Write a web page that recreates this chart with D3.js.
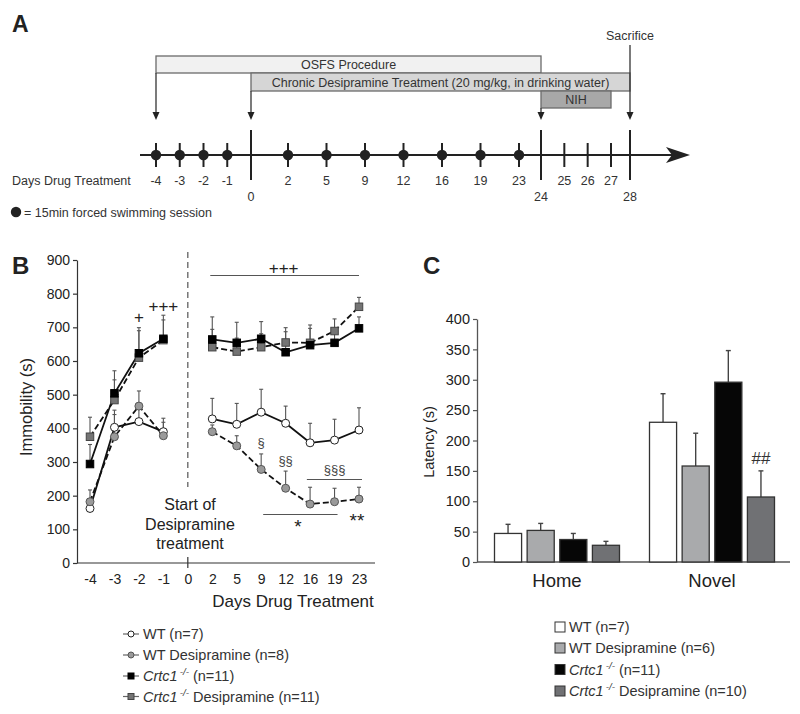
<!DOCTYPE html>
<html><head><meta charset="utf-8">
<script src="https://cdn.jsdelivr.net/npm/d3@7"></script>
<style>
body{margin:0;background:#fff}
svg{display:block;font-family:"Liberation Sans",Arial,Helvetica,sans-serif;fill:#222}
</style>
</head><body>
<svg id="chart" width="800" height="714"></svg>
<script>
// ---------------- DATA ----------------
// Panel A (schematic timeline)
const timelineDays = [-4,-3,-2,-1,0,2,5,9,12,16,19,23,24,25,26,27,28];
const sessionDays = [-4,-3,-2,-1,2,5,9,12,16,19,23];
const milestoneDays = [0,24,28];
const plainTickDays = [25,26,27];
const phaseLabels = ["OSFS Procedure","Chronic Desipramine Treatment (20 mg/kg, in drinking water)","NIH"];
const phaseStart = [-4,0,24];
const phaseEnd = [24,28,27];
const arrowDays = [-4,0,24,28];

// Panel B (immobility, s)
const bCategories = ["-4","-3","-2","-1","0","2","5","9","12","16","19","23"];
const preDays = ["-4","-3","-2","-1"];
const postDays = ["2","5","9","12","16","19","23"];
const bSeriesNames = ["WT (n=7)","WT Desipramine (n=8)","Crtc1 (n=11)","Crtc1 Desipramine (n=11)"];
const wtPre = [162,403,420,390],      wtPost = [428,412,448,415,357,365,395];
const wtErrPre = [15,51,40,40],       wtErrPost = [61,62,68,51,58,62,66];
const wtDesPre = [182,375,466,378],   wtDesPost = [390,348,278,222,175,182,190];
const wtDesErrPre = [35,66,45,40],    wtDesErrPost = [20,30,46,51,50,40,35];
const koPre = [294,504,623,666],      koPost = [664,654,666,626,647,654,697];
const koErrPre = [58,67,76,70],       koErrPost = [67,61,51,61,50,40,34];
const koDesPre = [375,484,610,662],   koDesPost = [641,628,641,655,654,689,761];
const koDesErrPre = [58,60,80,60],    koDesErrPost = [53,40,40,44,53,36,28];
const bYTicks = [0,100,200,300,400,500,600,700,800,900];

// Panel C (latency, s)
const cGroups = ["Home","Novel"];
const cSeries = ["WT (n=7)","WT Desipramine (n=6)","Crtc1 (n=11)","Crtc1 Desipramine (n=10)"];
const homeVals = [47,52,37,27.5],  homeErr = [15,11.5,10,6.5];
const novelVals = [230,158,296,107], novelErr = [47,54,52,43];
const cYTicks = [0,50,100,150,200,250,300,350,400];

// ---------------- DRAW ----------------
const svg = d3.select("#chart");
const ink = "#222";

// ===== Panel A =====
const gA = svg.append("g");
gA.append("text").attr("x",12).attr("y",32).attr("font-size",23).attr("font-weight","bold").text("A");

const tx = d3.scaleLinear().domain([0,4,5,11,12,15,16]).range([156,251,288,519,541,611,630]);
const tpos = d => tx(timelineDays.indexOf(d));

const phaseY = [56,73,91], phaseH = [17,18,17];
const phaseFill = ["#f1f1f1","#d6d6d6","#a8a8a8"];
phaseLabels.forEach((lab,i)=>{
  const x0 = tpos(phaseStart[i]), x1 = tpos(phaseEnd[i]);
  gA.append("rect").attr("x",x0).attr("y",phaseY[i]).attr("width",x1-x0).attr("height",phaseH[i])
    .attr("fill",phaseFill[i]).attr("stroke","#6a6a6a").attr("stroke-width",1.3);
  gA.append("text").attr("x",(x0+x1)/2).attr("y",phaseY[i]+phaseH[i]/2+4.5)
    .attr("text-anchor","middle").attr("font-size",12.5).attr("fill","#333").text(lab);
});
gA.append("text").attr("x",tpos(28)).attr("y",40).attr("text-anchor","middle").attr("font-size",12.5).attr("fill","#333").text("Sacrifice");

// arrows
const arrowFrom = [73,91,108,45];
arrowDays.forEach((d,i)=>{
  const x = tpos(d);
  gA.append("line").attr("x1",x).attr("x2",x).attr("y1",arrowFrom[i]).attr("y2",113)
    .attr("stroke","#333").attr("stroke-width",1.3);
  gA.append("path").attr("d",`M${x-3.5},112 L${x+3.5},112 L${x},120 Z`).attr("fill","#222");
});

// timeline axis
const tlY = 155;
gA.append("line").attr("x1",140).attr("x2",676).attr("y1",tlY).attr("y2",tlY).attr("stroke",ink).attr("stroke-width",2);
gA.append("path").attr("d",`M690,${tlY} L666,${tlY-8} L672,${tlY} L666,${tlY+8} Z`).attr("fill",ink);
sessionDays.concat(plainTickDays).forEach(d=>{
  gA.append("line").attr("x1",tpos(d)).attr("x2",tpos(d)).attr("y1",143).attr("y2",167).attr("stroke",ink).attr("stroke-width",2);
});
milestoneDays.forEach(d=>{
  gA.append("line").attr("x1",tpos(d)).attr("x2",tpos(d)).attr("y1",130).attr("y2",180).attr("stroke",ink).attr("stroke-width",2);
});
sessionDays.forEach(d=>{
  gA.append("circle").attr("cx",tpos(d)).attr("cy",tlY).attr("r",5.2).attr("fill",ink);
});
timelineDays.forEach(d=>{
  const big = milestoneDays.includes(d);
  gA.append("text").attr("x",tpos(d)).attr("y",big?201:185).attr("text-anchor","middle")
    .attr("font-size",12.5).attr("fill","#333").text(d);
});
gA.append("text").attr("x",12).attr("y",185).attr("font-size",12.5).attr("fill","#333").text("Days Drug Treatment");
gA.append("circle").attr("cx",16).attr("cy",212).attr("r",5.2).attr("fill",ink);
gA.append("text").attr("x",24).attr("y",216.5).attr("font-size",12.5).attr("fill","#333").text("= 15min forced swimming session");

// ===== Panel B =====
const gB = svg.append("g");
gB.append("text").attr("x",12).attr("y",274).attr("font-size",24).attr("font-weight","bold").text("B");

const xB = d3.scalePoint().domain(bCategories).range([90,359]);
const yB = d3.scaleLinear().domain([0,900]).range([563,260]);

const yAxB = gB.append("g").attr("transform","translate(77,0)")
  .call(d3.axisLeft(yB).tickValues(bYTicks).tickSize(4).tickSizeOuter(0).tickPadding(3));
yAxB.select(".domain").attr("stroke","#333").attr("stroke-width",1.2);
yAxB.selectAll(".tick line").attr("stroke","#333").attr("stroke-width",1.2);
yAxB.selectAll("text").attr("font-size",14).attr("font-family",null).attr("fill","#222");

gB.append("line").attr("x1",77).attr("x2",375).attr("y1",563).attr("y2",563).attr("stroke","#333").attr("stroke-width",1.2);
const xAxB = gB.append("g").attr("transform","translate(0,563)")
  .call(d3.axisBottom(xB).tickSize(0).tickPadding(11));
xAxB.select(".domain").remove();
xAxB.selectAll("text").attr("font-size",14).attr("font-family",null).attr("fill","#222");
gB.append("line").attr("x1",xB("0")).attr("x2",xB("0")).attr("y1",557).attr("y2",568).attr("stroke","#333").attr("stroke-width",1.2);

gB.append("text").attr("x",293).attr("y",607).attr("text-anchor","middle").attr("font-size",17).text("Days Drug Treatment");
gB.append("text").attr("transform","translate(32,407) rotate(-90)").attr("text-anchor","middle").attr("font-size",16.5).text("Immobility (s)");

// dashed start line
gB.append("line").attr("x1",xB("0")).attr("x2",xB("0")).attr("y1",252).attr("y2",487)
  .attr("stroke","#555").attr("stroke-width",1.2).attr("stroke-dasharray","6,4");
["Start of","Desipramine","treatment"].forEach((t,i)=>{
  gB.append("text").attr("x",190).attr("y",510+i*19.5).attr("text-anchor","middle").attr("font-size",16).text(t);
});

const seriesB = [
  {pre:wtPre, post:wtPost, ePre:wtErrPre, ePost:wtErrPost, dash:null, shape:"circle", fill:"#fff", stroke:"#222"},
  {pre:wtDesPre, post:wtDesPost, ePre:wtDesErrPre, ePost:wtDesErrPost, dash:"6,3", shape:"circle", fill:"#9a9a9a", stroke:"#555"},
  {pre:koPre, post:koPost, ePre:koErrPre, ePost:koErrPost, dash:null, shape:"square", fill:"#000", stroke:"#000"},
  {pre:koDesPre, post:koDesPost, ePre:koDesErrPre, ePost:koDesErrPost, dash:"6,3", shape:"square", fill:"#747474", stroke:"#444"}
];
const toPts = (days, vals, errs) => days.map((d,i)=>({day:d, v:vals[i], e:errs[i]}));
const lineB = d3.line().x(p=>xB(p.day)).y(p=>yB(p.v));

// error bars
seriesB.forEach(s=>{
  const pts = toPts(preDays,s.pre,s.ePre).concat(toPts(postDays,s.post,s.ePost));
  pts.forEach(p=>{
    const x = xB(p.day);
    gB.append("line").attr("x1",x).attr("x2",x).attr("y1",yB(p.v)).attr("y2",yB(p.v+p.e)).attr("stroke","#555").attr("stroke-width",1.1);
    gB.append("line").attr("x1",x-2).attr("x2",x+2).attr("y1",yB(p.v+p.e)).attr("y2",yB(p.v+p.e)).attr("stroke","#555").attr("stroke-width",1.1);
  });
});
// lines
seriesB.forEach(s=>{
  [toPts(preDays,s.pre,s.ePre), toPts(postDays,s.post,s.ePost)].forEach(pts=>{
    gB.append("path").attr("d",lineB(pts)).attr("fill","none").attr("stroke","#111").attr("stroke-width",1.8)
      .attr("stroke-dasharray",s.dash);
  });
});
// markers
function marker(g, shape, x, y, size, fill, stroke){
  if(shape==="circle"){
    g.append("circle").attr("cx",x).attr("cy",y).attr("r",size/2).attr("fill",fill).attr("stroke",stroke).attr("stroke-width",1);
  } else {
    g.append("rect").attr("x",x-size/2).attr("y",y-size/2).attr("width",size).attr("height",size).attr("fill",fill).attr("stroke",stroke).attr("stroke-width",1);
  }
}
[0,1,3,2].forEach(k=>{
  const s = seriesB[k];
  toPts(preDays,s.pre,s.ePre).concat(toPts(postDays,s.post,s.ePost)).forEach(p=>{
    marker(gB, s.shape, xB(p.day), yB(p.v), s.shape==="circle"?8:7.5, s.fill, s.stroke);
  });
});

// significance annotations
gB.append("line").attr("x1",xB("2")-2).attr("x2",xB("23")).attr("y1",275.5).attr("y2",275.5).attr("stroke","#555").attr("stroke-width",1.2);
gB.append("text").attr("x",(xB("2")+xB("23"))/2-2).attr("y",274).attr("text-anchor","middle").attr("font-size",17).text("+++");
gB.append("text").attr("x",xB("-2")).attr("y",322.5).attr("text-anchor","middle").attr("font-size",17).text("+");
gB.append("text").attr("x",xB("-1")).attr("y",312).attr("text-anchor","middle").attr("font-size",17).text("+++");
gB.append("text").attr("x",xB("9")).attr("y",447).attr("text-anchor","middle").attr("font-size",13).attr("fill","#444").text("§");
gB.append("text").attr("x",xB("12")).attr("y",465).attr("text-anchor","middle").attr("font-size",13).attr("fill","#444").text("§§");
gB.append("line").attr("x1",(xB("12")+xB("16"))/2+9).attr("x2",xB("23")+3).attr("y1",479.5).attr("y2",479.5).attr("stroke","#555").attr("stroke-width",1.2);
gB.append("text").attr("x",xB("19")).attr("y",474).attr("text-anchor","middle").attr("font-size",13).attr("fill","#444").text("§§§");
gB.append("line").attr("x1",xB("9")+2).attr("x2",xB("19")+3).attr("y1",514.5).attr("y2",514.5).attr("stroke","#555").attr("stroke-width",1.2);
gB.append("text").attr("x",(xB("12")+xB("16"))/2).attr("y",533).attr("text-anchor","middle").attr("font-size",19).text("*");
gB.append("text").attr("x",xB("23")-2).attr("y",527).attr("text-anchor","middle").attr("font-size",19).text("**");

// legend B
function labelWithGene(t, name, fs){
  const m = name.match(/^Crtc1(.*)$/);
  if(m){
    t.append("tspan").attr("font-style","italic").text("Crtc1");
    t.append("tspan").attr("font-style","italic").attr("font-size",fs*0.68).attr("dx",2).attr("dy",-6).text("-/-");
    t.append("tspan").attr("dy",6).text(m[1]);
  } else t.text(name);
}
const legBY = [634,655,676,696.5];
bSeriesNames.forEach((n,i)=>{
  const s = seriesB[i], y = legBY[i];
  gB.append("line").attr("x1",123).attr("x2",139).attr("y1",y).attr("y2",y).attr("stroke","#666").attr("stroke-width",1.2);
  marker(gB, s.shape, 131, y, s.shape==="circle"?6:6, s.fill, s.stroke);
  const t = gB.append("text").attr("x",143).attr("y",y+5).attr("font-size",14.5).attr("fill","#333");
  labelWithGene(t, n, 14.5);
});

// ===== Panel C =====
const gC = svg.append("g");
gC.append("text").attr("x",423).attr("y",274).attr("font-size",24).attr("font-weight","bold").text("C");

const x0 = d3.scaleBand().domain(cGroups).range([479.5,789.5]);
const x1 = d3.scaleBand().domain(cSeries).range([0,125]).paddingInner(0.17);
const yC = d3.scaleLinear().domain([0,400]).range([562,319]);
const cFill = ["#ffffff","#a9aaac","#060606","#707174"];
const cVals = {Home:homeVals, Novel:novelVals};
const cErrs = {Home:homeErr, Novel:novelErr};

const yAxC = gC.append("g").attr("transform","translate(477,0)")
  .call(d3.axisLeft(yC).tickValues(cYTicks).tickSize(4).tickSizeOuter(0).tickPadding(3));
yAxC.select(".domain").attr("stroke","#555").attr("stroke-width",1.3);
yAxC.selectAll(".tick line").attr("stroke","#555").attr("stroke-width",1.2);
yAxC.selectAll("text").attr("font-size",14.5).attr("font-family",null).attr("fill","#222");
gC.append("line").attr("x1",477).attr("x2",790).attr("y1",562).attr("y2",562).attr("stroke","#555").attr("stroke-width",1.3);

cGroups.forEach(g=>{
  const off = x0(g) + (x0.bandwidth()-125)/2;
  cSeries.forEach((s,i)=>{
    const v = cVals[g][i], e = cErrs[g][i];
    const bx = off + x1(s), cx = bx + x1.bandwidth()/2;
    gC.append("line").attr("x1",cx).attr("x2",cx).attr("y1",yC(v)).attr("y2",yC(v+e)).attr("stroke","#444").attr("stroke-width",1.4);
    gC.append("line").attr("x1",cx-2.5).attr("x2",cx+2.5).attr("y1",yC(v+e)).attr("y2",yC(v+e)).attr("stroke","#444").attr("stroke-width",1.4);
    gC.append("rect").attr("x",bx).attr("y",yC(v)).attr("width",x1.bandwidth()).attr("height",yC(0)-yC(v))
      .attr("fill",cFill[i]).attr("stroke","#333").attr("stroke-width",1.3);
  });
  gC.append("text").attr("x",x0(g)+x0.bandwidth()/2).attr("y",587).attr("text-anchor","middle").attr("font-size",18.5).text(g);
});
{
  const off = x0("Novel") + (x0.bandwidth()-125)/2;
  gC.append("text").attr("x",off + x1(cSeries[3]) + x1.bandwidth()/2).attr("y",464).attr("text-anchor","middle").attr("font-size",17).attr("fill","#333").text("##");
}
gC.append("text").attr("transform","translate(434,442) rotate(-90)").attr("text-anchor","middle").attr("font-size",14.5).text("Latency (s)");

const legCY = [627,648,669.5,691];
cSeries.forEach((n,i)=>{
  const y = legCY[i];
  gC.append("rect").attr("x",555).attr("y",y-5).attr("width",10).attr("height",10).attr("fill",cFill[i]).attr("stroke","#333").attr("stroke-width",1);
  const t = gC.append("text").attr("x",569).attr("y",y+5).attr("font-size",14.5).attr("fill","#333");
  labelWithGene(t, n, 14.5);
});
</script>
</body></html>
